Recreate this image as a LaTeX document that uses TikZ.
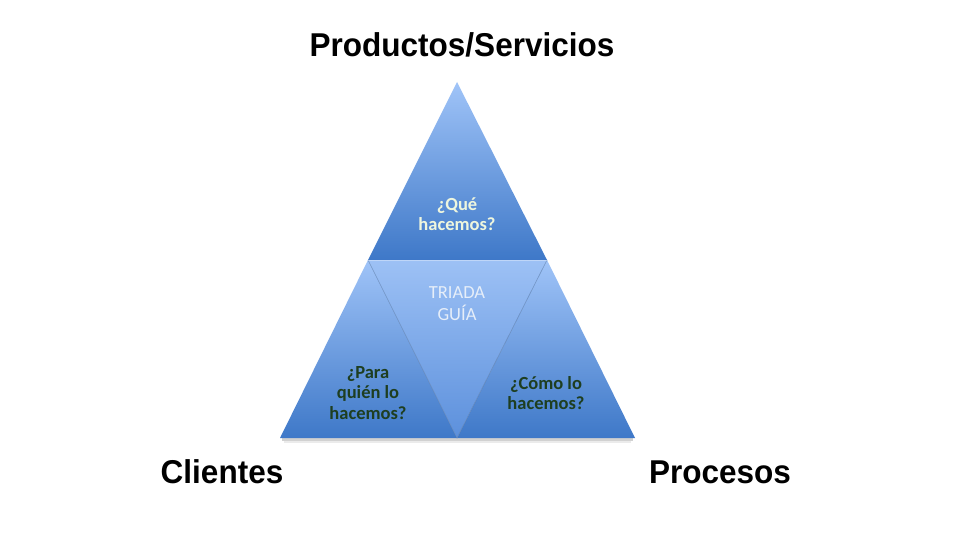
\documentclass[tikz,border=0pt]{standalone}
\usepackage{fontspec}
\setmainfont{Liberation Sans}
\newfontfamily\carlitofont{Carlito}
\definecolor{triTop}{HTML}{A0C4F8}
\definecolor{triBot}{HTML}{3E78C8}
\definecolor{midTop}{HTML}{9DC1F5}
\definecolor{midBot}{HTML}{5C90DC}
\definecolor{edgeC}{HTML}{5A7DAE}
\definecolor{lightTxt}{HTML}{EEF6DE}
\definecolor{triTxt}{HTML}{E6EEF9}
\definecolor{darkTxt}{HTML}{1E3E20}
\newcommand{\narrowtitle}[1]{\scalebox{0.955}[1]{#1}}
\tikzset{
  title/.style={font=\bfseries\fontsize{33}{36}\selectfont, text=black, inner sep=0pt},
  boldq/.style={font=\carlitofont\bfseries\fontsize{18.5}{20.5}\selectfont, align=center, inner sep=0pt},
  plainq/.style={font=\carlitofont\fontsize{18.5}{22}\selectfont, align=center, inner sep=0pt},
  tri/.style={top color=triTop, bottom color=triBot},
}
\begin{document}
\begin{tikzpicture}[x=1pt,y=-1pt]
\useasboundingbox[fill=white] (0,0) rectangle (960,540);
% coordinates
\coordinate (apex) at (457,82);
\coordinate (bl) at (280,438);
\coordinate (br) at (635,438);
\coordinate (ml) at (368,260);
\coordinate (mr) at (547,260);
\coordinate (bm) at (457,438);
% shadow
\fill[black!18] (282,438) rectangle (633,441);
\fill[black!8] (284,441) rectangle (631,443);
% triangles
\path[tri] (apex) -- (ml) -- (mr) -- cycle;
\path[tri] (ml) -- (bl) -- (bm) -- cycle;
\path[tri] (mr) -- (bm) -- (br) -- cycle;
\path[top color=midTop, bottom color=midBot] (ml) -- (mr) -- (bm) -- cycle;
% edges
\draw[edgeC, line width=0.6pt, opacity=0.7] (ml) -- (bm) -- (mr);
\draw[white, line width=0.5pt, opacity=0.35] (ml) -- (mr);
% texts
\node[boldq, text=lightTxt] (que) at (457,214) {¿Qué\\hacemos?};
\node[plainq, text=triTxt] (triada) at (457,304) {TRIADA\\GUÍA};
\node[boldq, text=darkTxt] (para) at (368,393) {¿Para\\quién lo\\hacemos?};
\node[boldq, text=darkTxt] (como) at (546,393) {¿Cómo lo\\hacemos?};
\node[title] (prod) at (462,45) {\narrowtitle{Productos/Servicios}};
\node[title] (cli) at (222,472) {\narrowtitle{Clientes}};
\node[title] (proc) at (720,472) {\narrowtitle{Procesos}};
\end{tikzpicture}
\end{document}
